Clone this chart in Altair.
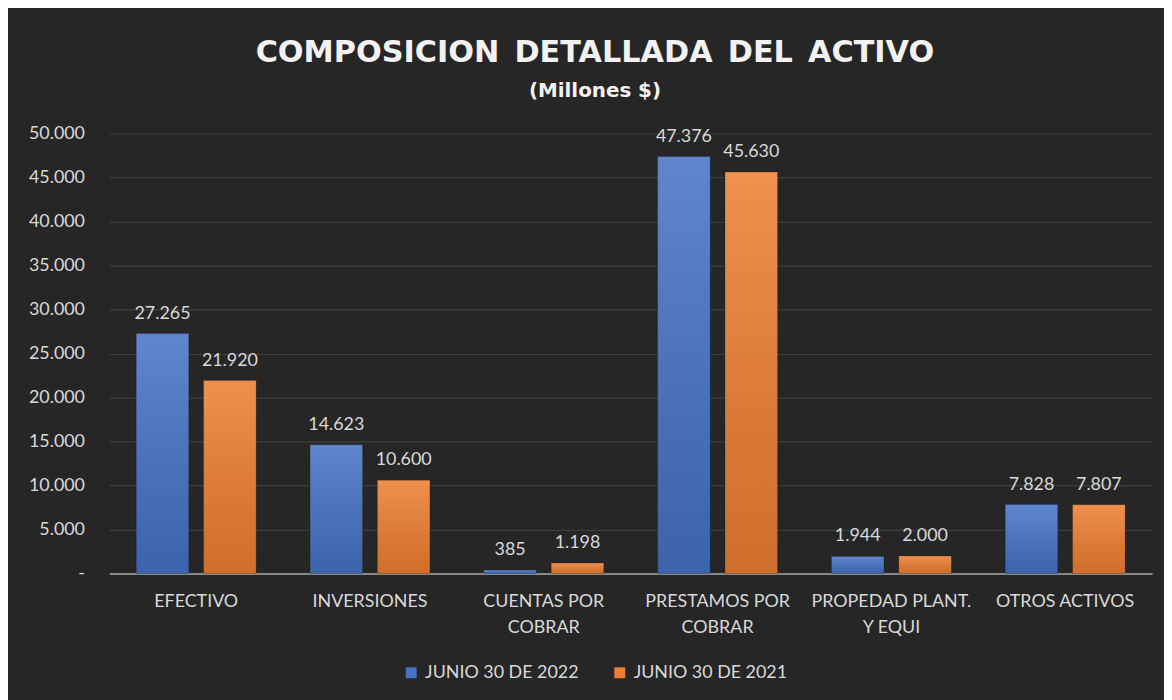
import altair as alt
import pandas as pd

categorias = ["EFECTIVO", "INVERSIONES", "CUENTAS POR\nCOBRAR", "PRESTAMOS POR\nCOBRAR",
              "PROPEDAD PLANT.\nY EQUI", "OTROS ACTIVOS"]
series = ["JUNIO 30 DE 2022", "JUNIO 30 DE 2021"]
valores_2022 = [27265, 14623, 385, 47376, 1944, 7828]
valores_2021 = [21920, 10600, 1198, 45630, 2000, 7807]
colores = ["#4472C4", "#ED7D31"]

rows = []
for c, v1, v2 in zip(categorias, valores_2022, valores_2021):
    rows.append({"cat": c, "serie": series[0], "valor": v1})
    rows.append({"cat": c, "serie": series[1], "valor": v2})
df = pd.DataFrame(rows)

FONT = "Lato"
LABEL_COLOR = "#d9d9d9"
FS = 18

x = alt.X("cat:N", sort=categorias, title=None,
          scale=alt.Scale(paddingInner=0.31, paddingOuter=0.155),
          axis=alt.Axis(labelAngle=0, labelExpr="split(datum.label, '\\n')",
                        labelFontSize=FS, labelColor=LABEL_COLOR, labelFont=FONT,
                        labelPadding=19, labelLineHeight=26, ticks=False,
                        domainColor="#a6a6a6", domainWidth=1.5, grid=False))
xo = alt.XOffset("serie:N", sort=series, scale=alt.Scale(paddingInner=0.22))
y = alt.Y("valor:Q", title=None,
          scale=alt.Scale(domain=[0, 50000], nice=False),
          axis=alt.Axis(values=list(range(0, 50001, 5000)), format=",d",
                        labelExpr="datum.value == 0 ? '-' : datum.label",
                        labelFontSize=FS, labelColor=LABEL_COLOR, labelFont=FONT,
                        labelPadding=25, ticks=False, domain=False,
                        gridColor="#3f3f3f", gridWidth=1.2))

base = alt.Chart(df)

bars = base.mark_bar().encode(
    x=x, xOffset=xo, y=y,
    color=alt.Color("serie:N", sort=series,
                    scale=alt.Scale(domain=series, range=colores),
                    legend=alt.Legend(title=None, orient="none", direction="horizontal",
                                      legendX=295, legendY=534,
                                      symbolType="square", symbolSize=121,
                                      symbolStrokeWidth=0,
                                      labelFontSize=FS, labelColor=LABEL_COLOR,
                                      labelFont=FONT, columnPadding=32,
                                      labelOffset=5)),
)

shade = base.mark_bar(
    fill=alt.Gradient(gradient="linear", x1=0, y1=0, x2=0, y2=1,
                      stops=[alt.GradientStop(offset=0, color="rgba(255,255,255,0.15)"),
                             alt.GradientStop(offset=1, color="rgba(0,0,0,0.12)")]),
    stroke="rgba(0,0,0,0.25)", strokeWidth=0.8
).encode(x=x, xOffset=xo, y=y)

text = base.mark_text(baseline="bottom", dy=-11, fontSize=FS, color=LABEL_COLOR,
                      font=FONT).encode(
    x=x, xOffset=xo, y=y, text=alt.Text("valor:Q", format=",d"))

chart = alt.layer(bars, shade, text).properties(
    width=1050, height=443,
    title=alt.TitleParams(
        text="COMPOSICION\u2002DETALLADA\u2002DEL\u2002ACTIVO",
        subtitle="(Millones $)",
        font="DejaVu Sans", fontSize=30.5, fontWeight="bold", color="#f2f2f2",
        subtitleFont="DejaVu Sans", subtitleFontSize=20, subtitleFontWeight="bold",
        subtitleColor="#f2f2f2", subtitlePadding=13,
        anchor="middle", dx=-36, offset=24),
    autosize=alt.AutoSizeParams(type="none"),
    padding={"left": 102, "top": 124, "right": 12, "bottom": 125},
    background="#262626",
).configure_view(stroke=None)

chart.save("out.html", embed_options={
    "renderer": "svg", "actions": False,
    "formatLocale": {"decimal": ",", "thousands": ".", "grouping": [3],
                     "currency": ["$", ""]}})
